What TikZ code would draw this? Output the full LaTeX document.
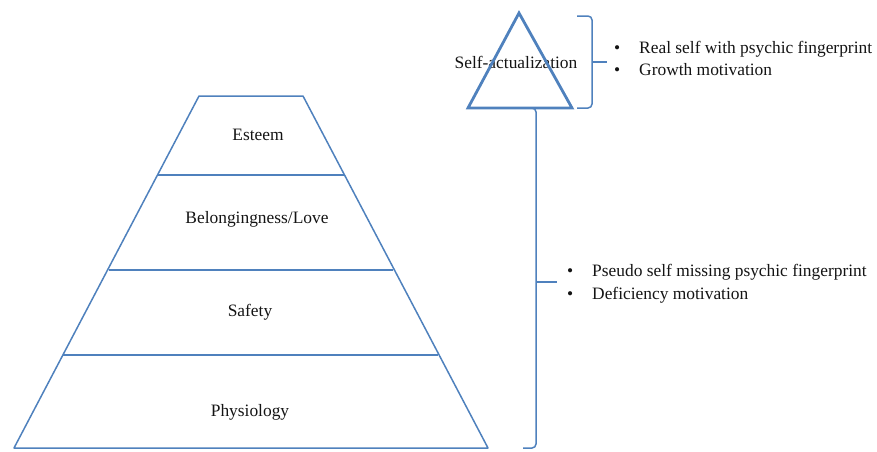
\documentclass[tikz,border=0pt]{standalone}
\usepackage{fontspec}
\setmainfont{Liberation Serif}
\definecolor{lineblue}{RGB}{79,129,189}
\definecolor{inkgray}{RGB}{20,20,20}
\begin{document}
\begin{tikzpicture}[x=1pt,y=-1pt,
  level/.style={lineblue,line width=1.5pt,line join=round},
  apex/.style={lineblue,line width=2.8pt,line join=miter},
  bracket/.style={lineblue,line width=1.5pt,rounded corners=4pt},
  lbl/.style={inkgray,font=\fontsize{17.4}{20}\selectfont,inner sep=0pt},
  bullet/.style={inkgray,font=\fontsize{17.4}{20}\selectfont,inner sep=0pt,anchor=base west}]
\useasboundingbox (0,0) rectangle (877,451);

% trapezoid corners of the four levels
\coordinate (t0L) at (199,96);  \coordinate (t0R) at (303,96);
\coordinate (t1L) at (157,175); \coordinate (t1R) at (345,175);
\coordinate (t2L) at (109,270); \coordinate (t2R) at (393,270);
\coordinate (t3L) at (63,355);  \coordinate (t3R) at (438,355);
\coordinate (t4L) at (14,448);  \coordinate (t4R) at (488,448);

\draw[level] (t4L) -- (t0L) -- (t0R) -- (t4R) -- cycle;
\draw[level] (t1L) -- (t1R);
\draw[level] (t2L) -- (t2R);
\draw[level] (t3L) -- (t3R);

\node[lbl] (esteem) at (258,135) {Esteem};
\node[lbl] (love)   at (257,219) {Belongingness/Love};
\node[lbl] (safety) at (250,312) {Safety};
\node[lbl] (phys)   at (250,412) {Physiology};

% peak triangle
\node[lbl] (selfact) at (516,62) {Self-actualization};
\coordinate (aTop) at (519,13);
\coordinate (aL) at (468,108);
\coordinate (aR) at (572,108);
\draw[apex] (aTop) -- (aL) -- (aR) -- cycle;

% upper bracket
\coordinate (b1top) at (577,16);
\coordinate (b1mid) at (592,62);
\coordinate (b1bot) at (577,108);
\coordinate (b1tip) at (607,62);
\draw[bracket] (b1top) -| (b1mid) |- (b1bot);
\draw[lineblue,line width=1.5pt] (b1mid) -- (b1tip);

% lower bracket
\coordinate (b2top) at (524,108);
\coordinate (b2mid) at (536,282);
\coordinate (b2bot) at (523,448);
\coordinate (b2tip) at (557,282);
\draw[bracket] (b2top) -| (b2mid) |- (b2bot);
\draw[lineblue,line width=1.5pt] (b2mid) -- (b2tip);

% bullet lists
\node[bullet] (u1b) at (614,53) {•};
\node[bullet] (u1)  at (639,53) {Real self with psychic fingerprint};
\node[bullet] (u2b) at (614,75) {•};
\node[bullet] (u2)  at (639,75) {Growth motivation};

\node[bullet] (l1b) at (567,276) {•};
\node[bullet] (l1)  at (592,276) {Pseudo self missing psychic fingerprint};
\node[bullet] (l2b) at (567,299) {•};
\node[bullet] (l2)  at (592,299) {Deficiency motivation};
\end{tikzpicture}
\end{document}
